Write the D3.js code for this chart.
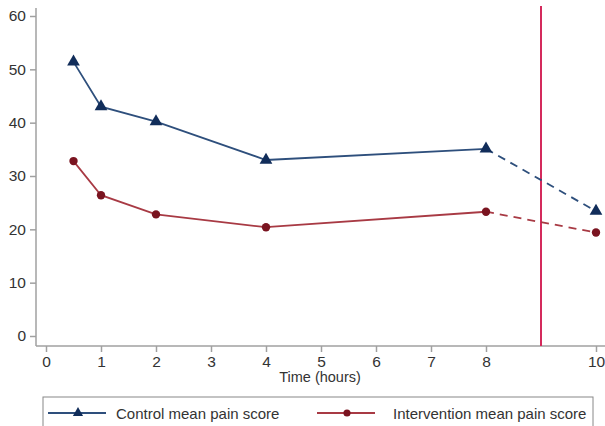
<!DOCTYPE html>
<html>
<head>
<meta charset="utf-8">
<script src="https://cdn.jsdelivr.net/npm/d3@7"></script>
<style>
  body { margin: 0; background: #fff; }
  text { font-family: "Liberation Sans", Arial, sans-serif; fill: #333; }
</style>
</head>
<body>
<svg id="chart"></svg>
<script>
var hours = [0.5, 1, 2, 4, 8, 10];
var controlScores = [51.4, 43.0, 40.2, 33.0, 35.1, 23.4];
var interventionScores = [32.8, 26.4, 22.8, 20.4, 23.3, 19.4];
var xTicks = [0, 1, 2, 3, 4, 5, 6, 7, 8, 10];
var yTicks = [0, 10, 20, 30, 40, 50, 60];
var cutoff = 9;

var svg = d3.select("#chart")
    .attr("width", 605)
    .attr("height", 426);

var x = d3.scaleLinear().domain([0, 10]).range([46, 596]);
var y = d3.scaleLinear().domain([0, 60]).range([336, 16]);

var axisColor = "#a0a0a0";

// y axis
var yAxis = svg.append("g")
    .attr("transform", "translate(36,0)")
    .call(d3.axisLeft(y).tickValues(yTicks).tickSize(6).tickPadding(4));
yAxis.select(".domain").attr("d", "M0,8V346");

// x axis
var xAxis = svg.append("g")
    .attr("transform", "translate(0,346)")
    .call(d3.axisBottom(x).tickValues(xTicks).tickSize(6).tickPadding(4));
xAxis.select(".domain").attr("d", "M36,0H605");

svg.selectAll(".domain, .tick line").attr("stroke", axisColor).attr("stroke-width", 1.5);
svg.selectAll(".tick text").attr("font-size", 15.5).style("fill", "#333");

svg.append("text")
    .attr("x", 320)
    .attr("y", 382)
    .attr("text-anchor", "middle")
    .attr("font-size", 14.5)
    .text("Time (hours)");

// cutoff line
svg.append("line")
    .attr("x1", x(cutoff)).attr("x2", x(cutoff))
    .attr("y1", 6).attr("y2", 346)
    .attr("stroke", "#d42a5c")
    .attr("stroke-width", 2);

var series = [
    { name: "Control mean pain score", values: controlScores, line: "#2e4f7c", mark: "#112d5a", shape: d3.symbolTriangle },
    { name: "Intervention mean pain score", values: interventionScores, line: "#a83a44", mark: "#7a1420", shape: d3.symbolCircle }
];

var line = d3.line().x(d => x(d[0])).y(d => y(d[1]));

series.forEach(function(s) {
    var pts = hours.map((h, i) => [h, s.values[i]]);
    var solid = pts.filter(p => p[0] <= 8);
    var dashed = pts.filter(p => p[0] >= 8);
    svg.append("path").attr("d", line(solid))
        .attr("fill", "none").attr("stroke", s.line).attr("stroke-width", 1.8);
    svg.append("path").attr("d", line(dashed))
        .attr("fill", "none").attr("stroke", s.line).attr("stroke-width", 1.8)
        .attr("stroke-dasharray", "8,6");
    svg.append("g").selectAll("path")
        .data(pts)
        .enter()
        .append("path")
        .attr("d", d3.symbol().type(s.shape).size(s.shape === d3.symbolTriangle ? 70 : 55))
        .attr("transform", d => `translate(${x(d[0])},${y(d[1])})`)
        .attr("fill", s.mark);
});

// legend
svg.append("rect")
    .attr("x", 43).attr("y", 397)
    .attr("width", 550).attr("height", 40)
    .attr("fill", "none").attr("stroke", "#888").attr("stroke-width", 1);

var legendX = [48, 317];
var textX = [68, 76];
series.forEach(function(s, i) {
    var g = svg.append("g").attr("transform", `translate(${legendX[i]},413)`);
    g.append("line").attr("x1", 0).attr("x2", 58).attr("y1", 0).attr("y2", 0)
        .attr("stroke", s.line).attr("stroke-width", 1.8);
    g.append("path")
        .attr("d", d3.symbol().type(s.shape).size(s.shape === d3.symbolTriangle ? 45 : 40))
        .attr("transform", "translate(30,0)")
        .attr("fill", s.mark);
    g.append("text").attr("x", textX[i]).attr("y", 5.5)
        .attr("font-size", 15).text(s.name);
});
</script>
</body>
</html>
